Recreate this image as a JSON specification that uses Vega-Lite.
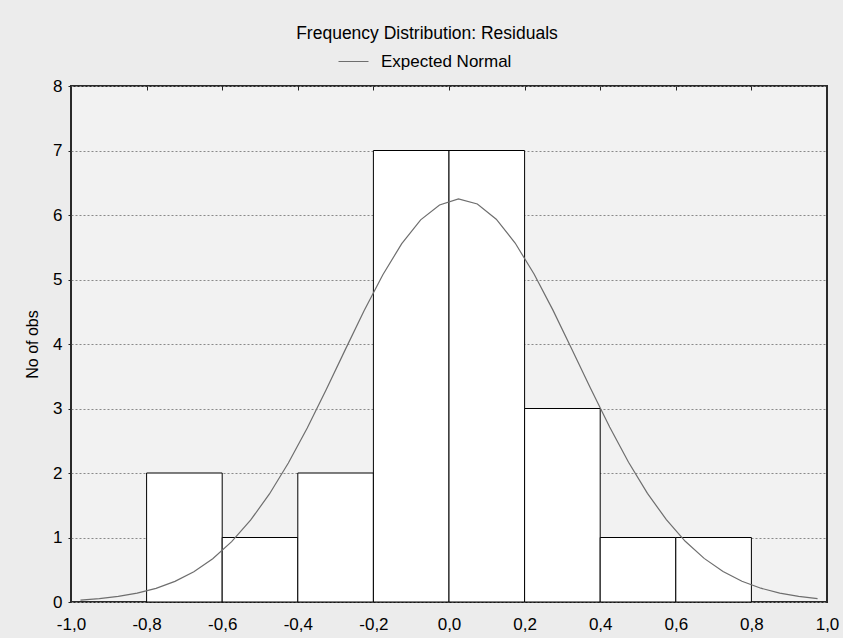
{
  "$schema": "https://vega.github.io/schema/vega-lite/v6.json",
  "width": 756,
  "height": 516,
  "autosize": {"type": "none"},
  "padding": {"left": 71, "top": 86, "right": 16, "bottom": 36},
  "background": "#ececec",
  "title": {
    "text": "Frequency Distribution: Residuals",
    "font": "Liberation Sans",
    "fontSize": 17.5,
    "fontWeight": "normal",
    "color": "#000000",
    "anchor": "middle",
    "dx": -22,
    "offset": 4
  },
  "datasets": {
    "bars": [
      {"x0": -0.8, "x1": -0.6, "count": 2},
      {"x0": -0.6, "x1": -0.4, "count": 1},
      {"x0": -0.4, "x1": -0.2, "count": 2},
      {"x0": -0.2, "x1": 0.0, "count": 7},
      {"x0": 0.0, "x1": 0.2, "count": 7},
      {"x0": 0.2, "x1": 0.4, "count": 3},
      {"x0": 0.4, "x1": 0.6, "count": 1},
      {"x0": 0.6, "x1": 0.8, "count": 1}
    ],
    "curve": [
      {"x": -0.975, "y": 0.03}, {"x": -0.925, "y": 0.052}, {"x": -0.875, "y": 0.086},
      {"x": -0.825, "y": 0.137}, {"x": -0.775, "y": 0.212}, {"x": -0.725, "y": 0.32},
      {"x": -0.675, "y": 0.47}, {"x": -0.625, "y": 0.672}, {"x": -0.575, "y": 0.935},
      {"x": -0.525, "y": 1.268}, {"x": -0.475, "y": 1.675}, {"x": -0.425, "y": 2.155},
      {"x": -0.375, "y": 2.698}, {"x": -0.325, "y": 3.29}, {"x": -0.275, "y": 3.905},
      {"x": -0.225, "y": 4.512}, {"x": -0.175, "y": 5.074}, {"x": -0.125, "y": 5.556},
      {"x": -0.075, "y": 5.924}, {"x": -0.025, "y": 6.155}, {"x": 0.025, "y": 6.25},
      {"x": 0.075, "y": 6.17}, {"x": 0.125, "y": 5.935}, {"x": 0.175, "y": 5.565},
      {"x": 0.225, "y": 5.085}, {"x": 0.275, "y": 4.525}, {"x": 0.325, "y": 3.92},
      {"x": 0.375, "y": 3.305}, {"x": 0.425, "y": 2.712}, {"x": 0.475, "y": 2.167},
      {"x": 0.525, "y": 1.685}, {"x": 0.575, "y": 1.276}, {"x": 0.625, "y": 0.941},
      {"x": 0.675, "y": 0.676}, {"x": 0.725, "y": 0.473}, {"x": 0.775, "y": 0.322},
      {"x": 0.825, "y": 0.214}, {"x": 0.875, "y": 0.138}, {"x": 0.925, "y": 0.087},
      {"x": 0.975, "y": 0.053}
    ]
  },
  "config": {
    "view": {"fill": "#f2f2f2", "stroke": "#2a2a2a", "strokeWidth": 2},
    "axis": {
      "labelFont": "Liberation Sans",
      "labelFontSize": 17,
      "labelColor": "#000000",
      "titleFont": "Liberation Sans",
      "titleFontSize": 16,
      "titleFontWeight": "normal",
      "titleColor": "#000000",
      "domain": false,
      "tickColor": "#222222"
    }
  },
  "layer": [
    {
      "data": {"name": "bars"},
      "mark": {"type": "bar", "fill": "#ffffff", "stroke": "#000000", "strokeWidth": 1},
      "encoding": {
        "x": {
          "field": "x0", "type": "quantitative",
          "scale": {"domain": [-1, 1], "nice": false, "zero": false},
          "axis": {
            "orient": "bottom", "title": null, "values": [-1, -0.8, -0.6, -0.4, -0.2, 0, 0.2, 0.4, 0.6, 0.8, 1],
            "labelExpr": "replace(replace(format(datum.value, '.1f'), '.', ','), '\u2212', '-')",
            "ticks": false, "grid": false, "labelPadding": 14, "labelFlush": false
          }
        },
        "x2": {"field": "x1"},
        "y": {
          "field": "count", "type": "quantitative",
          "scale": {"domain": [0, 8], "nice": false},
          "axis": {
            "orient": "left", "title": "No of obs", "values": [0, 1, 2, 3, 4, 5, 6, 7, 8],
            "tickSize": 3, "labelPadding": 6, "titlePadding": 12,
            "grid": true, "gridColor": "#8a8a8a", "gridDash": [2, 2], "gridWidth": 1
          }
        },
        "y2": {"datum": 0}
      }
    },
    {
      "data": {"name": "curve"},
      "mark": {"type": "line", "strokeWidth": 1.2, "interpolate": "linear"},
      "encoding": {
        "x": {
          "field": "x", "type": "quantitative",
          "axis": {
            "orient": "top", "title": null, "labels": false, "grid": false,
            "values": [-0.8, -0.6, -0.4, -0.2, 0, 0.2, 0.4, 0.6, 0.8],
            "tickSize": -4, "tickColor": "#222222"
          }
        },
        "y": {
          "field": "y", "type": "quantitative",
          "axis": {
            "orient": "left", "title": "No of obs", "values": [0, 1, 2, 3, 4, 5, 6, 7, 8],
            "tickSize": 3, "labelPadding": 6, "titlePadding": 12,
            "grid": true, "gridColor": "#8a8a8a", "gridDash": [2, 2], "gridWidth": 1
          }
        },
        "color": {
          "datum": "Expected Normal",
          "type": "nominal",
          "scale": {"range": ["#6e6e6e"]},
          "legend": {
            "title": null,
            "orient": "none",
            "legendX": 267,
            "legendY": -40,
            "symbolType": "stroke",
            "symbolSize": 900,
            "symbolStrokeWidth": 1,
            "labelFont": "Liberation Sans",
            "labelFontSize": 17,
            "labelColor": "#000000",
            "labelOffset": 12
          }
        }
      }
    }
  ],
  "resolve": {"axis": {"x": "independent"}}
}
